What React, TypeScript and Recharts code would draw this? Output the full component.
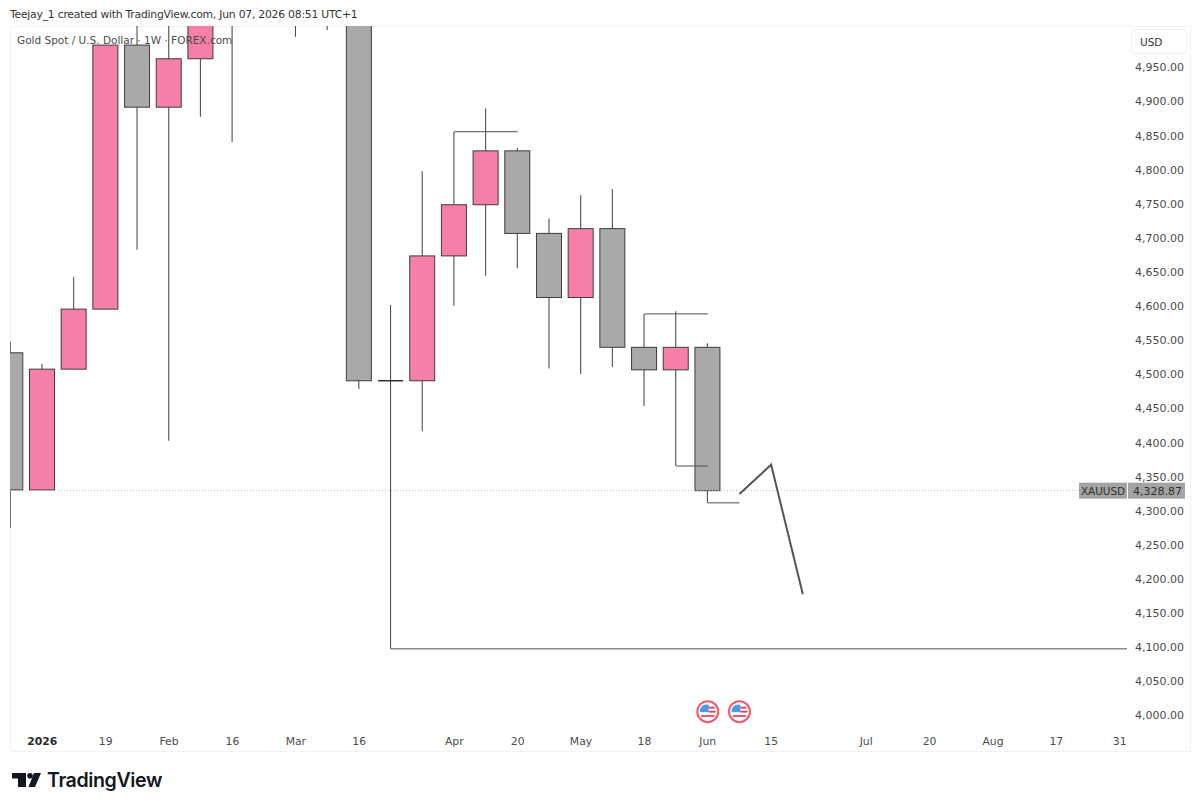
import React from 'react';
import { ComposedChart, Bar, Line, XAxis, YAxis, ReferenceLine, ReferenceDot } from 'recharts';

// weekly candles, index 0 is the one cut by the left edge
const weeks = [0, 1, 2, 3, 4, 5, 6, 7, 8, 9, 10, 11, 12, 13, 14, 15, 16, 17, 18, 19, 20, 21, 22, 23, 24, 25];
const opens = [4531, 4330, 4507, 4595, 4982, 4891, 4962, 5036, 5090, 5075, 5060, 5110, 4490, 4490, 4673, 4748, 4827, 4706, 4612, 4713, 4539, 4506, 4539];
const closes = [4330, 4507, 4595, 4982, 4891, 4962, 5036, 5090, 5075, 5060, 5110, 4490, 4490, 4673, 4748, 4827, 4706, 4612, 4713, 4539, 4506, 4539, 4328.87];
const highs = [4547, 4515, 4642, 4982, 5030, 5040, 5060, 5110, 5120, 5110, 5130, 5130, 4601, 4797, 4855, 4889, 4831, 4728, 4762, 4771, 4588, 4592, 4545];
const lows = [4274, 4330, 4507, 4595, 4682, 4402, 4877, 4840, 5030, 4994, 5004, 4478, 4097, 4416, 4600, 4644, 4655, 4508, 4500, 4510, 4453, 4365, 4311];

// hand drawn path after the last candle
const projectionWeeks = [23, 24, 25];
const projectionPrices = [4324, 4367, 4177];

// horizontal levels drawn on the chart
const levelFrom = [14, 20, 21, 22, 12];
const levelTo = [16, 22, 22, 23, 35.23];
const levelPrice = [4855, 4588, 4365, 4311, 4097];

const eventWeeks = [22, 23];
const eventPrice = 4005;
const lastPrice = 4328.87;

const priceTicks = [4000, 4050, 4100, 4150, 4200, 4250, 4300, 4350, 4400, 4450, 4500, 4550, 4600, 4650, 4700, 4750, 4800, 4850, 4900, 4950];
const timeTicks = [1, 3, 5, 7, 9, 11, 14, 16, 18, 20, 22, 24, 27, 29, 31, 33, 35];
const timeLabels = ['2026', '19', 'Feb', '16', 'Mar', '16', 'Apr', '20', 'May', '18', 'Jun', '15', 'Jul', '20', 'Aug', '17', '31'];

const chartData = weeks.map((week, i) => {
  const pathIndex = projectionWeeks.indexOf(week);
  return {
    week,
    open: opens[i],
    close: closes[i],
    high: highs[i],
    low: lows[i],
    range: i < opens.length ? [lows[i], highs[i]] : null,
    path: pathIndex >= 0 ? projectionPrices[pathIndex] : null,
  };
});

const FONT = '"DejaVu Sans", Tahoma, sans-serif';
const PINK = '#f57fa8';
const GRAY = '#a9a9a9';
const EDGE = '#3d3d3d';
const WICK = '#4f4f4f';

function Candle(props: any) {
  const { x, y, width, height, payload } = props;
  if (payload.range == null) return null;
  const { open, close, high, low } = payload;
  const perUnit = height / (high - low);
  const yOf = (price: number) => y + (high - price) * perUnit;
  const top = yOf(Math.max(open, close));
  const bottom = yOf(Math.min(open, close));
  const mid = x + width / 2;
  return (
    <g>
      <line x1={mid} x2={mid} y1={y} y2={y + height} stroke={WICK} strokeWidth={1.1} />
      <rect
        x={x}
        y={top}
        width={width}
        height={Math.max(bottom - top, 0)}
        fill={close >= open ? PINK : GRAY}
        stroke={EDGE}
        strokeWidth={1}
      />
      {open === close && <line x1={x} x2={x + width} y1={top} y2={top} stroke="#222" strokeWidth={1.4} />}
    </g>
  );
}

function TimeTick(props: any) {
  const { x, y, payload } = props;
  const label = timeLabels[timeTicks.indexOf(payload.value)];
  return (
    <text
      x={x}
      y={y}
      dy={9}
      textAnchor="middle"
      fontFamily={FONT}
      fontSize={10.8}
      fontWeight={label === '2026' ? 700 : 400}
      fill={label === '2026' ? '#2a2a2a' : '#4a4a4a'}
    >
      {label}
    </text>
  );
}

function FlagIcon(props: any) {
  const { cx, cy } = props;
  return (
    <g>
      <circle cx={cx} cy={cy} r={10.5} fill="#fff" stroke="#ea5c6c" strokeWidth={2} />
      <clipPath id={`flag-${Math.round(cx)}`}>
        <circle cx={cx} cy={cy} r={8} />
      </clipPath>
      <g clipPath={`url(#flag-${Math.round(cx)})`}>
        <rect x={cx - 8} y={cy - 7} width={9} height={7.5} fill="#4a9bea" />
        <rect x={cx + 1} y={cy - 5} width={8} height={2} fill="#e8465a" />
        <rect x={cx + 1} y={cy - 1} width={8} height={2} fill="#e8465a" />
        <rect x={cx - 8} y={cy + 3.5} width={16} height={1.8} fill="#e8465a" />
      </g>
    </g>
  );
}

function PriceTag(props: any) {
  const { viewBox } = props;
  const y = viewBox.y;
  const right = viewBox.x + viewBox.width;
  return (
    <g fontFamily={FONT} fontSize={11} fill="#2e2e2e">
      <rect x={right - 48} y={y - 8} width={48} height={16} fill="#a3a3a3" />
      <text x={right - 24} y={y + 4} textAnchor="middle" fontSize={10.4}>XAUUSD</text>
      <rect x={right + 1} y={y - 8} width={57} height={16} fill="#a3a3a3" />
      <text x={right + 55} y={y + 4} textAnchor="end">4,328.87</text>
    </g>
  );
}

const formatPrice = (value: number) =>
  value.toLocaleString('en-US', { minimumFractionDigits: 2, maximumFractionDigits: 2 });

export default function App() {
  return (
    <div style={{ position: 'absolute', left: 0, top: 0, width: 1200, height: 809, background: '#fff', overflow: 'hidden' }}>
      <div style={{ position: 'absolute', left: 10, top: 8, fontFamily: FONT, fontSize: 10.8, letterSpacing: -0.23, color: '#333', whiteSpace: 'nowrap' }}>
        Teejay_1 created with TradingView.com, Jun 07, 2026 08:51 UTC+1
      </div>
      <div style={{ position: 'absolute', left: 10, top: 26, width: 1179, height: 724, border: '1px solid #f3f3f3' }} />

      <div style={{ position: 'absolute', left: 0, top: 0 }}>
        <ComposedChart width={1200} height={809} data={chartData} margin={{ left: 10, top: 26, right: 13, bottom: 59 }}>
          <XAxis
            dataKey="week"
            type="number"
            domain={[-0.02, 35.23]}
            allowDataOverflow
            ticks={timeTicks}
            interval={0}
            tick={TimeTick}
            tickLine={false}
            axisLine={false}
            height={22}
          />
          <YAxis
            orientation="right"
            type="number"
            domain={[3981, 5010]}
            allowDataOverflow
            ticks={priceTicks}
            interval={0}
            tickFormatter={formatPrice}
            tick={{ fontFamily: FONT, fontSize: 11, fill: '#4a4a4a', dy: 0.5 }}
            tickLine={false}
            axisLine={false}
            width={60}
          />
          <ReferenceLine
            y={lastPrice}
            stroke="#bdbdbd"
            strokeDasharray="1 2"
            strokeWidth={1}
            label={PriceTag}
          />
          <Bar dataKey="range" barSize={25} shape={Candle} isAnimationActive={false} />
          {levelFrom.map((from, i) => (
            <ReferenceLine
              key={i}
              segment={[
                { x: from, y: levelPrice[i] },
                { x: levelTo[i], y: levelPrice[i] },
              ]}
              stroke={WICK}
              strokeWidth={1}
            />
          ))}
          <Line
            dataKey="path"
            stroke="#555"
            strokeWidth={2}
            dot={false}
            connectNulls={false}
            isAnimationActive={false}
          />
          {eventWeeks.map((week) => (
            <ReferenceDot key={week} x={week} y={eventPrice} shape={FlagIcon} />
          ))}
        </ComposedChart>
      </div>

      <div style={{ position: 'absolute', left: 17, top: 34, fontFamily: FONT, fontSize: 10.5, color: '#4a4a4a', whiteSpace: 'nowrap' }}>
        Gold Spot / U.S. Dollar · 1W · FOREX.com
      </div>
      <div
        style={{
          position: 'absolute',
          left: 1131,
          top: 29,
          width: 56,
          height: 25,
          border: '1px solid #f0f0f0',
          borderRadius: 4,
          background: '#fff',
          fontFamily: FONT,
          fontSize: 10.5,
          color: '#333',
          lineHeight: '24px',
          paddingLeft: 8,
          boxSizing: 'border-box',
        }}
      >
        USD
      </div>

      <svg style={{ position: 'absolute', left: 12, top: 773 }} width={30} height={15}>
        <path d="M0 0H14V14H6V5.5H0Z M16.5 14L22 0H29L23 14Z" fill="#131722" />
        <circle cx={18} cy={2.8} r={2.8} fill="#131722" />
      </svg>
      <div
        style={{
          position: 'absolute',
          left: 47,
          top: 768,
          fontFamily: 'Inter, sans-serif',
          fontSize: 19.6,
          fontWeight: 600,
          letterSpacing: -0.4,
          color: '#131722',
          whiteSpace: 'nowrap',
        }}
      >
        TradingView
      </div>
    </div>
  );
}
